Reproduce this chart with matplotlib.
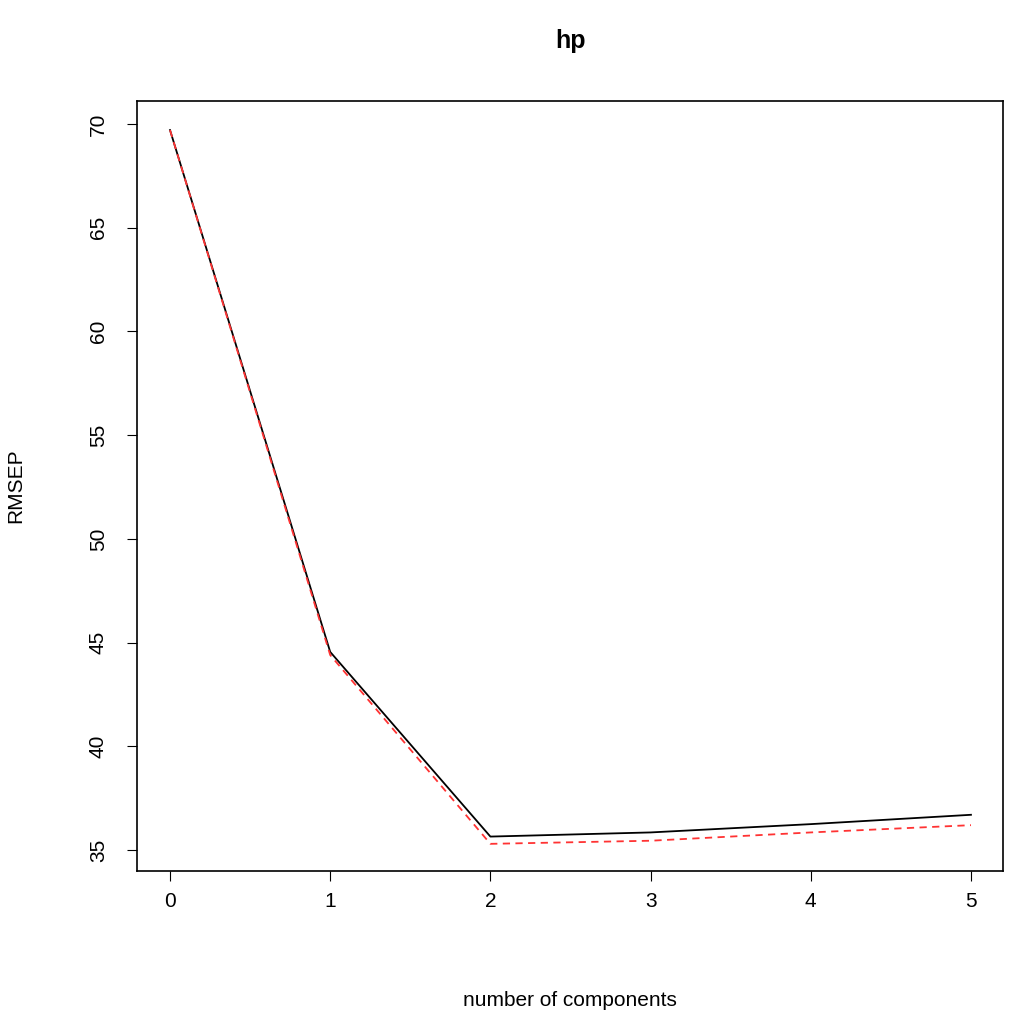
import matplotlib
matplotlib.use("Agg")
import matplotlib.pyplot as plt

plt.rcParams['font.family'] = ['Liberation Sans', 'DejaVu Sans']

components = [0, 1, 2, 3, 4, 5]
rmsep_cv = [69.7, 44.55, 35.65, 35.85, 36.25, 36.7]
rmsep_adjcv = [69.7, 44.4, 35.3, 35.45, 35.85, 36.2]

fig = plt.figure(figsize=(10.24, 10.1), dpi=100)
ax = fig.add_axes([0.1338, 0.1376, 0.8457, 0.7624])
ax.plot(components, rmsep_cv, color='black', lw=1.3)
ax.plot(components, rmsep_adjcv, color='#ff3333', lw=1.3, ls=(0, (4, 3)))
ax.set_xlim(-0.206, 5.2)
ax.set_ylim(33.99, 71.1)
ax.set_xticks(components)
ax.set_yticks([35, 40, 45, 50, 55, 60, 65, 70])
ax.tick_params(direction='out', length=7, labelsize=15, pad=8)
ax.tick_params(axis='y', pad=14)
for lab in ax.get_yticklabels():
    lab.set_rotation(90)
    lab.set_va('center')
for s in ax.spines.values():
    s.set_linewidth(1.2)
ax.set_xlabel('number of components', fontsize=15, labelpad=58)
ax.set_ylabel('RMSEP', fontsize=15, labelpad=46)
ax.set_title('hp', fontsize=18, fontweight='bold', pad=38)
fig.savefig('out.png', dpi=100)
